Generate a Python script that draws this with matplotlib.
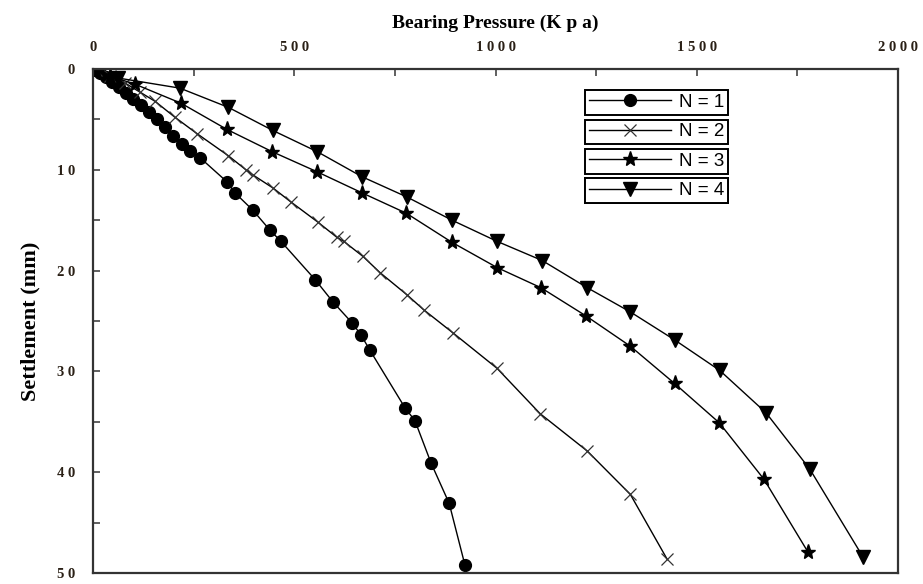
import matplotlib.pyplot as plt
from matplotlib.ticker import MultipleLocator, FuncFormatter

# Bearing pressure (kPa) vs settlement (mm) for N = 1..4
p1 = [5, 17, 32, 47, 65, 82, 100, 119, 139, 159, 179, 199, 221, 241, 266, 333, 353,
      397, 440, 467, 552, 596, 644, 666, 688, 775, 800, 840, 885, 924]
s1 = [0.1, 0.4, 0.8, 1.3, 1.8, 2.4, 3.0, 3.6, 4.3, 5.0, 5.8, 6.6, 7.4, 8.1, 8.8, 11.2,
      12.3, 14.0, 16.0, 17.1, 20.9, 23.1, 25.2, 26.4, 27.9, 33.6, 34.9, 39.1, 43.1, 49.2]

p2 = [7, 42, 80, 117, 154, 204, 258, 336, 380, 397, 447, 492, 559, 606, 623, 671, 713,
      780, 822, 895, 1004, 1111, 1228, 1335, 1426]
s2 = [0.1, 0.7, 1.4, 2.3, 3.2, 4.8, 6.4, 8.6, 10.0, 10.5, 11.8, 13.2, 15.2, 16.7, 17.1,
      18.6, 20.2, 22.4, 23.9, 26.2, 29.7, 34.2, 37.9, 42.2, 48.6]

p3 = [7, 42, 104, 219, 333, 445, 557, 669, 778, 892, 1004, 1113, 1225, 1335, 1445,
      1556, 1667, 1776]
s3 = [0.1, 0.7, 1.5, 3.4, 6.0, 8.2, 10.2, 12.3, 14.3, 17.2, 19.7, 21.7, 24.5, 27.5,
      31.2, 35.1, 40.7, 47.9]

p4 = [10, 63, 216, 336, 447, 557, 669, 780, 892, 1004, 1116, 1228, 1335, 1446, 1557,
      1672, 1781, 1913]
s4 = [0.1, 0.9, 1.9, 3.8, 6.1, 8.2, 10.7, 12.7, 15.0, 17.1, 19.0, 21.7, 24.1, 26.9,
      29.9, 34.1, 39.7, 48.4]

labels = ['N = 1', 'N = 2', 'N = 3', 'N = 4']

fig = plt.figure(figsize=(9.23, 5.84), dpi=100)
ax = fig.add_axes([93 / 923, 1 - 573 / 584, 805 / 923, 504 / 584])

styles = [
    dict(marker='o', ms=8.5, mfc='black', mec='black'),
    dict(marker='x', ms=9, mec='#333333', mew=0.9),
    dict(marker='*', ms=11, mfc='black', mec='black'),
    dict(marker='v', ms=10, mfc='black', mec='black'),
]
handles = []
for p, s, st, lab in zip([p1, p2, p3, p4], [s1, s2, s3, s4], styles, labels):
    h, = ax.plot(p, s, color='black', lw=1.0, label=lab, **st)
    handles.append(h)

ax.set_xlim(0, 2000)
ax.set_ylim(50, 0)
ax.xaxis.tick_top()
ax.xaxis.set_label_position('top')
ax.xaxis.set_major_locator(MultipleLocator(500))
ax.xaxis.set_minor_locator(MultipleLocator(250))
ax.yaxis.set_major_locator(MultipleLocator(10))
ax.yaxis.set_minor_locator(MultipleLocator(5))

# the original tick labels are letter-spaced
spaced = FuncFormatter(lambda v, pos: ' '.join(str(int(v))))
ax.xaxis.set_major_formatter(spaced)
ax.yaxis.set_major_formatter(spaced)

ax.tick_params(which='both', direction='in', width=1.2, color='#444444', length=5)
ax.tick_params(axis='x', pad=11)
ax.tick_params(axis='y', pad=13)
for t in ax.get_xticklabels() + ax.get_yticklabels():
    t.set_fontfamily('Liberation Serif')
    t.set_fontweight('bold')
    t.set_fontsize(10.5)
    t.set_color('#2a2016')

for sp in ax.spines.values():
    sp.set_linewidth(1.6)
    sp.set_color('#333333')

ax.set_xlabel('Bearing Pressure (K p a)', fontfamily='Liberation Serif',
              fontweight='bold', fontsize=14, labelpad=9)
ax.set_ylabel('Settlement (mm)', fontfamily='Liberation Serif',
              fontweight='bold', fontsize=16, labelpad=12)

# legend drawn as four stacked boxes
box_top = 1 - (90 - 69) / 504
step = 29.5 / 504
for i, h in enumerate(handles):
    leg = ax.legend(handles=[h], loc='upper left',
                    bbox_to_anchor=((585 - 93) / 805, box_top - i * step),
                    frameon=True, fancybox=False, edgecolor='black',
                    framealpha=1, handlelength=4.4,
                    borderpad=0.2, handletextpad=0.4, borderaxespad=0,
                    prop=dict(family='Liberation Sans', size=13.5))
    leg.get_frame().set_linewidth(1.4)
    ax.add_artist(leg)

fig.savefig('out.png', dpi=100)
